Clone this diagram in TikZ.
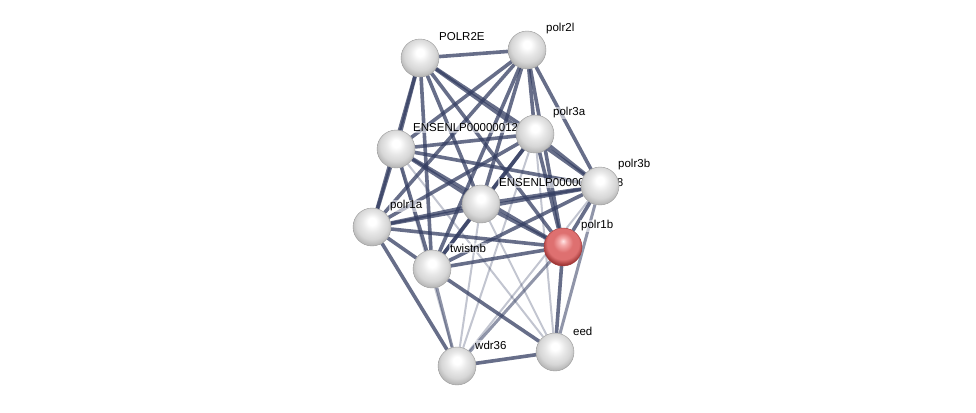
\documentclass[tikz,border=0pt]{standalone}
\usepackage{fontspec}
\setmainfont{Liberation Sans}
\usetikzlibrary{positioning}
\pgfdeclarelayer{edges}
\pgfdeclarelayer{labels}
\pgfsetlayers{edges,labels,main}
\definecolor{edgeblue}{RGB}{52,62,98}
\definecolor{redlight}{RGB}{245,170,170}
\definecolor{redmid}{RGB}{222,112,112}
\definecolor{reddark}{RGB}{160,55,55}
\pgfdeclareradialshading{greyball}{\pgfpoint{0bp}{8bp}}{%
  color(0bp)=(white); color(5bp)=(white); color(13bp)=(gray!18);
  color(21bp)=(gray!32); color(27bp)=(gray!55); color(34bp)=(gray!45); color(50bp)=(gray!45)}
\pgfdeclareradialshading{redball}{\pgfpoint{0bp}{8bp}}{%
  color(0bp)=(red!10!white); color(5bp)=(redlight); color(13bp)=(redmid);
  color(21bp)=(redmid); color(27bp)=(reddark); color(34bp)=(reddark); color(50bp)=(reddark)}
\tikzset{
  prot/.style={circle, minimum size=38pt, inner sep=0pt, shading=greyball, draw=black!40, line width=0.4pt},
  query/.style={prot, shading=redball, draw=reddark},
  plabel/.style={font=\fontsize{11.5}{13}\selectfont, inner sep=1pt, fill=white, fill opacity=0.55, text opacity=1},
  strong/.style={draw=edgeblue, line width=3.6pt, opacity=0.75},
  medium/.style={draw=edgeblue, line width=3pt, opacity=0.55},
  weak/.style={draw=edgeblue, line width=2pt, opacity=0.3},
}
\begin{document}
\begin{tikzpicture}[x=1pt, y=-1pt]
  \useasboundingbox (0,0) rectangle (976,412);

  % proteins
  \node[prot]  (pe)  at (420, 58)  {};
  \node[prot]  (pl)  at (527, 50)  {};
  \node[prot]  (ea)  at (396, 149) {};
  \node[prot]  (pta) at (535, 134) {};
  \node[prot]  (ptb) at (600, 186) {};
  \node[prot]  (eb)  at (481, 204) {};
  \node[prot]  (poa) at (372, 227) {};
  \node[query] (pob) at (563, 247) {};
  \node[prot]  (tw)  at (432, 269) {};
  \node[prot]  (eed) at (555, 352) {};
  \node[prot]  (wdr) at (457, 366) {};

  % names
  \begin{pgfonlayer}{labels}
    \node[plabel, anchor=west] (pelab)  at (438, 37)  {POLR2E};
    \node[plabel, anchor=west] (pllab)  at (545, 29)  {polr2l};
    \node[plabel, anchor=west] (ealab)  at (412, 128) {ENSENLP00000012520};
    \node[plabel, anchor=west] (ptalab) at (552, 113) {polr3a};
    \node[plabel, anchor=west] (ptblab) at (617, 165) {polr3b};
    \node[plabel, anchor=west] (eblab)  at (498, 183) {ENSENLP00000027338};
    \node[plabel, anchor=west] (poalab) at (389, 206) {polr1a};
    \node[plabel, anchor=west] (poblab) at (580, 226) {polr1b};
    \node[plabel, anchor=west] (twlab)  at (449, 248) {twistnb};
    \node[plabel, anchor=west] (eedlab) at (572, 331) {eed};
    \node[plabel, anchor=west] (wdrlab) at (474, 345) {wdr36};
  \end{pgfonlayer}

  % associations
  \begin{pgfonlayer}{edges}
    \foreach \a/\b in {pe/pl, pe/ea, pe/tw, pe/eb, pe/pta, pe/pob, pe/ptb, pe/poa,
        pl/ea, pl/pta, pl/ptb, pl/eb, pl/pob, pl/tw, pl/poa,
        ea/pta, ea/poa, ea/eb, ea/tw, ea/pob, ea/ptb,
        pta/ptb, pta/eb, pta/pob, pta/poa, pta/tw,
        ptb/eb, ptb/pob, ptb/poa, ptb/tw,
        eb/poa, eb/pob, eb/tw,
        poa/pob, poa/tw, poa/wdr,
        tw/pob, tw/eed, pob/eed, wdr/eed}
      \draw[strong] (\a) -- (\b);
    \foreach \a/\b in {pob/wdr, eed/ptb, wdr/tw}
      \draw[medium] (\a) -- (\b);
    \foreach \a/\b in {wdr/eb, wdr/pta, wdr/ptb, wdr/ea, eed/eb, eed/ea, eed/pta}
      \draw[weak] (\a) -- (\b);
  \end{pgfonlayer}
\end{tikzpicture}
\end{document}
